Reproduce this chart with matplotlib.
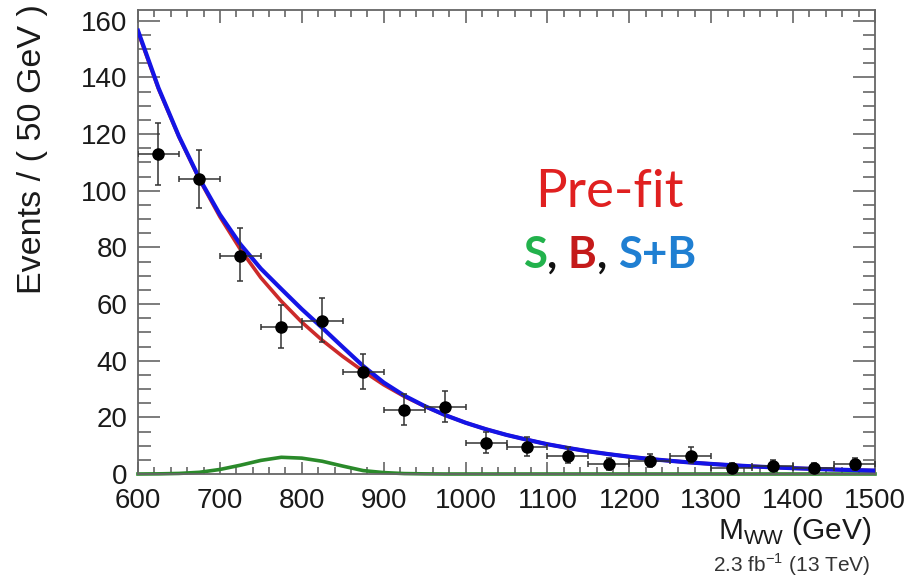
import matplotlib
matplotlib.use('Agg')
import matplotlib.pyplot as plt
from matplotlib.ticker import MultipleLocator

plt.rcParams['font.family'] = ['Liberation Sans', 'DejaVu Sans']
plt.rcParams['mathtext.fontset'] = 'custom'
plt.rcParams['mathtext.rm'] = 'Liberation Sans'

# ---- data ----
bin_centers = [625, 675, 725, 775, 825, 875, 925, 975, 1025, 1075,
               1125, 1175, 1225, 1275, 1325, 1375, 1425, 1475]
events = [113, 104, 77, 52, 54, 36, 22.5, 23.5, 11, 9.5,
          6.5, 3.5, 4.5, 6.5, 2, 3, 2, 3.5]
err_low = [11, 10, 9, 7.5, 7.5, 6, 5.2, 5.2, 3.5, 3.2,
           2.6, 2.0, 2.2, 2.6, 1.4, 1.7, 1.4, 2.0]
err_high = [11, 10.5, 9.8, 7.8, 8, 6.5, 5.7, 5.7, 3.8, 3.5,
            2.9, 2.3, 2.6, 2.9, 1.8, 2.1, 1.8, 2.3]
half_bin = [25] * 18

curve_mass = [600, 625, 650, 675, 700, 725, 750, 775, 800, 825,
              850, 875, 900, 925, 950, 975, 1000, 1025, 1050, 1075,
              1100, 1125, 1150, 1175, 1200, 1225, 1250, 1275, 1300, 1325,
              1350, 1375, 1400, 1425, 1450, 1475, 1500]
background = [156, 136, 119, 104, 90.8, 79.3, 69.3, 61.0, 53.6, 47.2,
              41.5, 36.3, 31.5, 27.4, 23.9, 20.8, 18.1, 15.8, 13.8, 12.1,
              10.5, 9.2, 8.0, 7.0, 6.1, 5.3, 4.65, 4.05, 3.55, 3.1,
              2.7, 2.35, 2.05, 1.8, 1.57, 1.37, 1.2]
signal = [0.0, 0.05, 0.2, 0.6, 1.6, 3.1, 4.8, 5.9, 5.6, 4.5,
          2.8, 1.2, 0.5, 0.15, 0.05, 0.0, 0.0, 0.0, 0.0, 0.0,
          0.0, 0.0, 0.0, 0.0, 0.0, 0.0, 0.0, 0.0, 0.0, 0.0,
          0.0, 0.0, 0.0, 0.0, 0.0, 0.0, 0.0]
sig_plus_bkg = [156.5, 136.3, 119.2, 104.3, 91.6, 81.1, 72.5, 65.3, 58.2, 51.6,
                44.8, 38.1, 32.3, 27.7, 24.0, 20.8, 18.1, 15.8, 13.8, 12.1,
                10.5, 9.2, 8.0, 7.0, 6.1, 5.3, 4.65, 4.05, 3.55, 3.1,
                2.7, 2.35, 2.05, 1.8, 1.57, 1.37, 1.2]

W, H = 908, 577
fig = plt.figure(figsize=(W / 100, H / 100), dpi=100)
L, R, T, B = 138, 875, 10, 474
ax = fig.add_axes([L / W, 1 - B / H, (R - L) / W, (B - T) / H])

ax.plot(curve_mass, signal, color='#2a8a2a', lw=2.6, zorder=2, clip_on=False)
ax.plot(curve_mass, background, color='#cc2a2a', lw=2.6, zorder=3)
ax.plot(curve_mass, sig_plus_bkg, color='#1414e6', lw=3.0, zorder=4)
ax.errorbar(bin_centers, events, xerr=half_bin, yerr=[err_low, err_high],
            fmt='o', color='black', ms=8, ecolor='#333333', elinewidth=1.1,
            capsize=2.5, capthick=1.1, zorder=5)

ax.set_xlim(600, 1500)
ax.set_ylim(0, 163.8)
ax.xaxis.set_major_locator(MultipleLocator(100))
ax.xaxis.set_minor_locator(MultipleLocator(20))
ax.yaxis.set_major_locator(MultipleLocator(20))
ax.yaxis.set_minor_locator(MultipleLocator(5))

frame_col = '#666666'
for s in ax.spines.values():
    s.set_color(frame_col)
    s.set_linewidth(1.3)
ax.tick_params(axis='both', which='both', direction='in', top=True, right=True,
               color=frame_col, labelcolor='#1a1a1a', labelsize=20)
ax.tick_params(axis='y', which='major', length=16, width=1.2, pad=7.5)
ax.tick_params(axis='y', which='minor', length=9, width=1.2)
ax.tick_params(axis='x', which='major', length=9, width=1.2, pad=10)
ax.tick_params(axis='x', which='minor', length=5, width=1.2)

fig.text(33 / W, 1 - 4 / H, 'Events / ( 50 GeV )', rotation=90,
         ha='center', va='top', fontsize=24.5, color='#1a1a1a')
fig.text(872 / W, 1 - 515 / H, r'M$_{\mathregular{WW}}$ (GeV)',
         ha='right', va='top', fontsize=21.5, color='#1a1a1a')
fig.text(870 / W, 1 - 565 / H, r'2.3 fb$^{\mathregular{-1}}$ (13 TeV)',
         ha='right', va='center', fontsize=15, color='#333333')

fig.text(609 / W, 1 - 192 / H, 'Pre-fit', ha='center', va='center',
         fontsize=38, color='#e02020', family=['Lato', 'DejaVu Sans'])

parts = [('S', '#22b24c'), (', ', '#111111'), ('B', '#c41a1a'),
         (', ', '#111111'), ('S+B', '#1f7fd2')]
t = fig.text(523 / W, 1 - 268 / H, parts[0][0], ha='left', va='baseline',
             fontsize=31.5, fontweight='bold', color=parts[0][1],
             family=['Lato', 'DejaVu Sans'])
for txt, col in parts[1:]:
    t = ax.annotate(txt, xy=(1, 0), xycoords=t, ha='left', va='bottom',
                    fontsize=31.5, fontweight='bold', color=col,
                    family=['Lato', 'DejaVu Sans'], annotation_clip=False)

fig.savefig('out.png', dpi=100)
